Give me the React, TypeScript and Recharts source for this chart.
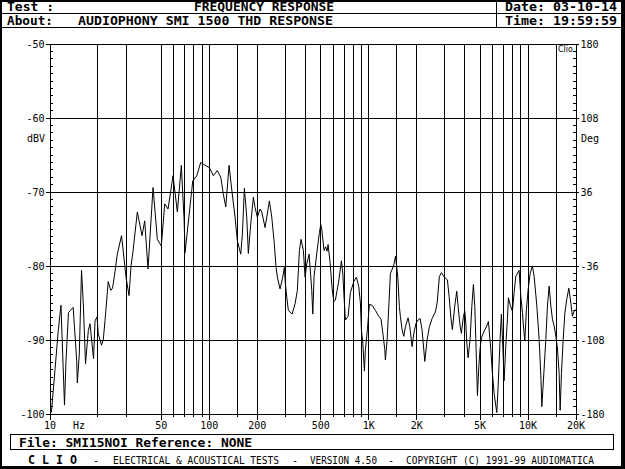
import React from 'react';
import { LineChart, Line, XAxis, YAxis, ReferenceLine } from 'recharts';

// CLIO frequency response (Hz / dBV)
const LOW_HZ = [
  10.2, 10.75, 11.27, 11.72, 12.33, 12.6, 13.06, 13.45, 13.98, 14.71,
  14.84, 15.27, 15.77, 16.18, 16.71, 17.4, 17.83, 18.27, 18.76, 19.17,
  19.73, 20.1, 21.05, 21.61, 22.14, 23.19, 24.05, 24.69, 25.58, 26.45,
  28.11, 28.85, 30.0, 31.33, 32.25, 33.19, 35.32, 37.8, 39.3, 41.22,
  44.32, 47.17, 49.95, 52.48, 55.05, 59.16, 62.99, 66.73,
];
const LOW_DBV = [
  -99.8, -94.0, -88.7, -85.3, -98.8, -92.8, -86.3, -86.0, -85.6, -92.8,
  -95.8, -91.9, -80.6, -85.1, -93.2, -88.7, -87.8, -90.1, -92.5, -87.4,
  -86.9, -89.2, -90.7, -89.9, -87.4, -82.1, -83.3, -83.0, -80.8, -78.4,
  -75.9, -78.1, -81.5, -84.0, -80.0, -78.0, -72.7, -75.9, -73.9, -80.4,
  -69.4, -76.4, -77.3, -71.6, -72.3, -67.8, -72.7, -66.4,
];

const MID_HZ = [
  68.1, 69.4, 70.4, 72.1, 77.5, 78.7, 83.4, 88.3, 94.0, 100,
  106, 112.2, 117.9, 122.4, 126.8, 133, 136.3, 138.8, 145, 149.9,
  157.4, 161.2, 165.9, 171.7, 175.7, 181.9, 188.9, 193.6, 200.1, 208.1,
  213.3, 223.7, 229.3, 238.1, 246.5, 254.8, 262.3, 267.3, 277.9, 288.9,
  295.7, 300, 306.1, 313.3, 330.4, 345.1, 356.8, 367.3, 376.4, 389.2,
  398.9, 408.8, 422.6, 428.8, 439.4, 445.9,
];
const MID_DBV = [
  -70.3, -73.6, -78.2, -76.1, -69.8, -68.5, -67.8, -66.0, -66.4, -66.7,
  -67.8, -67.1, -68.0, -70.3, -72.0, -66.4, -68.5, -70.0, -73.4, -76.6,
  -78.4, -75.7, -69.5, -73.4, -78.3, -74.3, -70.7, -72.1, -73.4, -72.3,
  -72.7, -74.8, -73.4, -71.2, -73.4, -76.6, -80.2, -81.5, -83.1, -81.5,
  -80.2, -82.4, -84.2, -86.0, -86.5, -85.1, -83.3, -77.9, -76.4, -77.9,
  -81.5, -79.7, -78.4, -80.2, -83.3, -86.5,
];

const UPPER_HZ = [
  454.2, 472.3, 490.4, 500.6, 507.9, 524.8, 536.4, 548.1, 556.1, 572.4,
  589.3, 603.9, 618.1, 633.4, 649.2, 674.1, 687.9, 697.9, 714.2, 742.6,
  767.7, 806.4, 837.3, 866.8, 887.1, 900, 918.4, 939.9, 953.6, 967.4,
  981.4, 1010, 1050, 1102, 1157, 1196, 1226, 1262, 1273, 1305,
  1337, 1369, 1438, 1472, 1493, 1523, 1558, 1581, 1620, 1661,
  1700, 1767, 1811, 1873, 1919, 1984, 2042, 2102, 2164, 2250,
  2325, 2405, 2500, 2623, 2688, 2779, 2860, 2961,
];
const UPPER_DBV = [
  -81.4, -78.3, -75.5, -74.4, -75.1, -77.9, -77.4, -78.0, -77.1, -79.5,
  -83.0, -84.8, -84.6, -83.3, -82.0, -79.3, -81.0, -83.6, -87.3, -86.8,
  -83.6, -82.1, -81.5, -82.8, -85.0, -88.6, -90.4, -94.2, -91.3, -90.0,
  -88.6, -85.2, -85.3, -86.0, -86.8, -87.2, -89.0, -91.3, -92.7, -90.0,
  -85.5, -81.0, -79.9, -78.7, -79.8, -81.5, -85.5, -86.8, -88.6, -89.5,
  -88.2, -87.0, -88.2, -90.9, -89.1, -87.7, -87.3, -87.1, -88.7, -92.9,
  -90.0, -88.2, -87.1, -86.2, -85.0, -81.4, -80.9, -81.4,
];

const HIGH_HZ = [
  3119, 3197, 3274, 3351, 3469, 3571, 3639, 3746, 3817, 3930,
  4010, 4068, 4128, 4206, 4330, 4437, 4542, 4635, 4723, 4813,
  4911, 5004, 5099, 5302, 5512, 5641, 5840, 5977, 6125, 6279,
  6370, 6492, 6679, 6806, 6945, 7077, 7253, 7423, 7531, 7718,
  7979, 8177, 8380, 8793, 9011, 9222, 9356, 9547, 9771, 10014,
  10308, 10656, 10921, 11357, 11741, 12033, 12209, 12494, 12935, 13238,
  13567, 13905, 14230, 14584, 14947, 15296, 15675, 15904, 16206, 16609,
  17022, 17522, 18036, 18564, 18998, 19470, 20000,
];
const HIGH_DBV = [
  -81.9, -84.1, -86.8, -88.6, -85.4, -83.4, -85.4, -88.1, -89.1, -86.8,
  -86.1, -87.7, -90.4, -92.4, -89.9, -85.5, -82.5, -85.5, -91.3, -97.5,
  -93.6, -91.1, -89.7, -88.8, -88.1, -87.5, -91.3, -94.5, -97.2, -98.9,
  -99.8, -96.2, -89.9, -86.5, -90.8, -95.5, -90.8, -87.2, -84.3, -85.2,
  -86.1, -83.6, -81.4, -80.6, -84.1, -86.3, -88.1, -90.0, -85.9, -83.2,
  -81.0, -80.0, -81.4, -85.4, -89.9, -94.8, -99.0, -95.4, -89.9, -85.4,
  -82.7, -85.4, -87.2, -88.1, -89.5, -91.1, -94.5, -99.5, -94.5, -90.0,
  -86.4, -84.4, -83.0, -85.0, -86.8, -86.1, -85.9,
];

const FREQ_HZ = [...LOW_HZ, ...MID_HZ, ...UPPER_HZ, ...HIGH_HZ];
const LEVEL_DBV = [...LOW_DBV, ...MID_DBV, ...UPPER_DBV, ...HIGH_DBV];
const rows = FREQ_HZ.map((f, i) => ({ f, dbv: LEVEL_DBV[i] }));

// axes
const X_GRID_HZ = [
  20, 30, 50, 60, 70, 80, 90, 100, 150, 200, 300, 400, 500, 600, 700, 800, 900,
  1000, 1500, 2000, 3000, 4000, 5000, 6000, 7000, 8000, 9000, 10000, 15000,
];
const X_TICKS = [10, ...X_GRID_HZ, 20000];
const X_LABEL_HZ = [10, 50, 100, 200, 500, 1000, 2000, 5000, 10000, 20000];
const X_LABELS = ['10', '50', '100', '200', '500', '1K', '2K', '5K', '10K', '20K'];
const Y_MAJOR = [-50, -60, -70, -80, -90, -100];
const DBV_LABELS = ['-50', '-60', '-70', '-80', '-90', '-100'];
const DEG_LABELS = ['180', '108', '36', '-36', '-108', '-180'];
const Y_TICKS = Array.from({ length: 51 }, (_, i) => -100 + i);
const Y_GRID = [-50, -60, -70, -80, -90];

const MONO = '"DejaVu Sans Mono", monospace';

function LeftTick({ x, y, payload }: any) {
  const i = Y_MAJOR.indexOf(payload.value);
  return (
    <g shapeRendering="crispEdges">
      <line x1={x} x2={x + 3} y1={y} y2={y} stroke="#000" />
      {i >= 0 && <line x1={x - 4} x2={x} y1={y} y2={y} stroke="#000" />}
      {i >= 0 && (
        <text x={x - 5.5} y={y + 3.5} textAnchor="end" fontSize={10} fontFamily={MONO} fill="#000">
          {DBV_LABELS[i]}
        </text>
      )}
    </g>
  );
}

function RightTick({ x, y, payload }: any) {
  const i = Y_MAJOR.indexOf(payload.value);
  return (
    <g shapeRendering="crispEdges">
      <line x1={x - 3} x2={x} y1={y} y2={y} stroke="#000" />
      {i >= 0 && <line x1={x} x2={x + 3} y1={y} y2={y} stroke="#000" />}
      {i >= 0 && (
        <text x={x + 4.5} y={y + 3.5} textAnchor="start" fontSize={10} fontFamily={MONO} fill="#000">
          {DEG_LABELS[i]}
        </text>
      )}
    </g>
  );
}

function BottomTick({ x, y, payload }: any) {
  const i = X_LABEL_HZ.indexOf(payload.value);
  return (
    <g shapeRendering="crispEdges">
      <line x1={x} x2={x} y1={y} y2={y + (i >= 0 ? 6 : 3)} stroke="#000" />
      {i >= 0 && (
        <text x={x} y={y + 15} textAnchor="middle" fontSize={10} fontFamily={MONO} fill="#000">
          {X_LABELS[i]}
        </text>
      )}
    </g>
  );
}

export default function App() {
  return (
    <div style={{ position: 'absolute', left: 0, top: 0, width: 625, height: 469, background: '#fff' }}>
      <LineChart
        width={625}
        height={469}
        data={rows}
        margin={{ top: 44, right: 9, bottom: 25, left: 10 }}
        style={{ position: 'absolute', left: 0, top: 0 }}
      >
        <XAxis
          dataKey="f"
          type="number"
          scale="log"
          domain={[10, 20000]}
          ticks={X_TICKS}
          interval={0}
          allowDataOverflow
          height={30}
          tickSize={0}
          tickMargin={0}
          tickLine={false}
          tick={<BottomTick />}
          axisLine={{ stroke: '#000', shapeRendering: 'crispEdges' }}
        />
        <YAxis
          type="number"
          domain={[-100, -50]}
          ticks={Y_TICKS}
          interval={0}
          width={40}
          tickSize={0}
          tickMargin={0}
          tickLine={false}
          tick={<LeftTick />}
          axisLine={{ stroke: '#000', shapeRendering: 'crispEdges' }}
        />
        <YAxis
          yAxisId="deg"
          orientation="right"
          type="number"
          domain={[-100, -50]}
          ticks={Y_TICKS}
          interval={0}
          width={40}
          tickSize={0}
          tickMargin={0}
          tickLine={false}
          tick={<RightTick />}
          axisLine={{ stroke: '#000', shapeRendering: 'crispEdges' }}
        />
        {X_GRID_HZ.map((f) => (
          <ReferenceLine key={`vx${f}`} x={f} stroke="#000" strokeWidth={1} shapeRendering="crispEdges" />
        ))}
        {Y_GRID.map((v) => (
          <ReferenceLine key={`hy${v}`} y={v} stroke="#000" strokeWidth={1} shapeRendering="crispEdges" />
        ))}
        {/* same curve on the phase axis, not drawn, so the right axis gets its ticks */}
        <Line
          yAxisId="deg"
          type="linear"
          dataKey="dbv"
          stroke="none"
          dot={false}
          activeDot={false}
          isAnimationActive={false}
        />
        <Line
          type="linear"
          dataKey="dbv"
          stroke="#000"
          strokeWidth={1}
          dot={false}
          isAnimationActive={false}
        />
      </LineChart>

      <svg width={625} height={469} style={{ position: 'absolute', left: 0, top: 0, pointerEvents: 'none' }}>
        <g shapeRendering="crispEdges" stroke="#000" fill="none">
          <line x1={0} x2={625} y1={1} y2={1} strokeWidth={2} />
          <line x1={1} x2={1} y1={0} y2={469} strokeWidth={2} />
          <line x1={0} x2={625} y1={13.5} y2={13.5} />
          <line x1={0} x2={625} y1={27.5} y2={27.5} />
          <line x1={496.5} x2={496.5} y1={0} y2={28} />
          <rect x={10.5} y={434.5} width={603} height={15} />
        </g>
        <rect x={621} y={0} width={4} height={469} fill="#000" />
        <rect x={0} y={466} width={625} height={3} fill="#000" />

        <g fontFamily={MONO} fill="#000" fontWeight="bold" fontSize={12}>
          <text x={7} y={11} textLength={47} lengthAdjust="spacingAndGlyphs">Test :</text>
          <text x={194} y={11} textLength={140} lengthAdjust="spacingAndGlyphs">FREQUENCY RESPONSE</text>
          <text x={505} y={11} textLength={112} lengthAdjust="spacingAndGlyphs">Date: 03-10-14</text>
          <text x={7} y={24.5} textLength={46} lengthAdjust="spacingAndGlyphs">About:</text>
          <text x={78} y={24.5} textLength={255} lengthAdjust="spacingAndGlyphs">AUDIOPHONY SMI 1500 THD RESPONSE</text>
          <text x={505} y={24.5} textLength={112} lengthAdjust="spacingAndGlyphs">Time: 19:59:59</text>
          <text x={19} y={446.5} textLength={233} lengthAdjust="spacingAndGlyphs">File: SMI15NOI Reference: NONE</text>
          <text x={28} y={463.5} textLength={49} lengthAdjust="spacingAndGlyphs">C L I O</text>
        </g>

        <g fontFamily={MONO} fill="#000" fontSize={10}>
          <text x={93} y={463.5}>-</text>
          <text x={113} y={463.5} textLength={166} lengthAdjust="spacingAndGlyphs">ELECTRICAL &amp; ACOUSTICAL TESTS</text>
          <text x={292} y={463.5}>-</text>
          <text x={310} y={463.5} textLength={67} lengthAdjust="spacingAndGlyphs">VERSION 4.50</text>
          <text x={388} y={463.5}>-</text>
          <text x={406} y={463.5} textLength={188} lengthAdjust="spacingAndGlyphs">COPYRIGHT (C) 1991-99 AUDIOMATICA</text>
          <text x={45} y={141.5} textAnchor="end">dBV</text>
          <text x={581} y={141.5}>Deg</text>
          <text x={73} y={429}>Hz</text>
        </g>
        <text x={558} y={52} fontSize={8} fill="#000" fontFamily='"DejaVu Sans", sans-serif'>Clio</text>
      </svg>
    </div>
  );
}
